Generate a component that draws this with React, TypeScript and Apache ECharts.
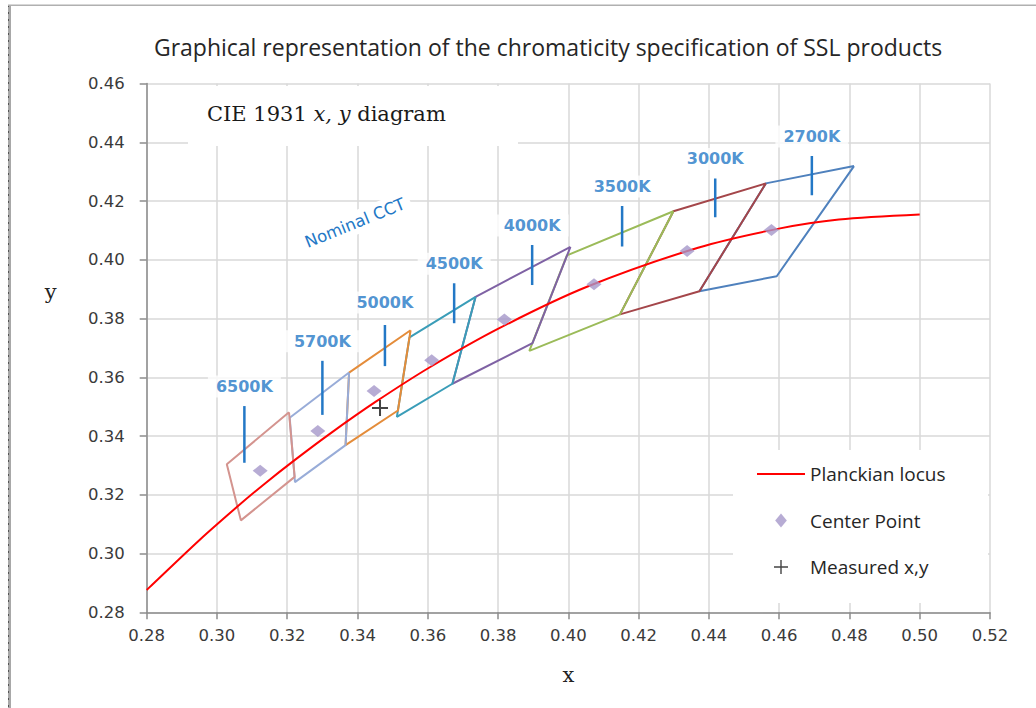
import { useEffect, useRef } from "react";
import * as echarts from "echarts";

// ---- data ----
const planckX = [0.2800, 0.2807, 0.2952, 0.3064, 0.3135, 0.3221, 0.3324, 0.3451, 0.3607, 0.3805, 0.4053, 0.4369, 0.4599, 0.4770, 0.5000];
const planckY = [0.2876, 0.2884, 0.3048, 0.3166, 0.3237, 0.3318, 0.3410, 0.3516, 0.3635, 0.3768, 0.3908, 0.4041, 0.4106, 0.4137, 0.4154];

const cctNames = ["6500K", "5700K", "5000K", "4500K", "4000K", "3500K", "3000K", "2700K"];

// quadrangle corners (ANSI C78.377), per CCT, 4 corners each
const quadX = [
  [0.3205, 0.3028, 0.3068, 0.3221],
  [0.3376, 0.3207, 0.3222, 0.3366],
  [0.3551, 0.3376, 0.3366, 0.3515],
  [0.3736, 0.3548, 0.3512, 0.3670],
  [0.4006, 0.3736, 0.3670, 0.3898],
  [0.4299, 0.3996, 0.3889, 0.4147],
  [0.4562, 0.4299, 0.4147, 0.4373],
  [0.4813, 0.4562, 0.4373, 0.4593],
];
const quadY = [
  [0.3481, 0.3304, 0.3113, 0.3261],
  [0.3616, 0.3462, 0.3243, 0.3369],
  [0.3760, 0.3616, 0.3369, 0.3487],
  [0.3874, 0.3736, 0.3465, 0.3578],
  [0.4044, 0.3874, 0.3578, 0.3716],
  [0.4165, 0.4015, 0.3690, 0.3814],
  [0.4260, 0.4165, 0.3814, 0.3893],
  [0.4319, 0.4260, 0.3893, 0.3944],
];

const centerX = [0.3123, 0.3287, 0.3447, 0.3611, 0.3818, 0.4073, 0.4338, 0.4578];
const centerY = [0.3282, 0.3417, 0.3553, 0.3658, 0.3797, 0.3917, 0.4030, 0.4101];

const measuredX = [0.3464];
const measuredY = [0.3495];

// nominal CCT marker segments
const tickX = [0.3078, 0.3300, 0.3478, 0.3675, 0.3897, 0.4153, 0.4418, 0.4693];
const tickTopY = [0.3502, 0.3656, 0.3778, 0.3920, 0.4050, 0.4183, 0.4277, 0.4353];
const tickBottomY = [0.3309, 0.3472, 0.3638, 0.3784, 0.3914, 0.4045, 0.4145, 0.4220];

const xMin = 0.28, xMax = 0.52, yMin = 0.28, yMax = 0.46, step = 0.02;

// ---- styles ----
const quadColors = ["#d4948f", "#98acd8", "#e48c3a", "#3a9db8", "#7f62a4", "#9bbb59", "#a4464a", "#4f81bd"];
const labelGap = [8, 8, 11, 8, 8, 8, 8, 8];
const blue = "#2378c6";
const cross = "path://M7,0H9V16H7Z M0,7H16V9H0Z";
const crossThin = "path://M6.3,0H7.7V14H6.3Z M0,6.3H14V7.7H0Z";
const diamondIcon = "path://M5,0L10,6L5,12L0,6Z";
const lineIcon = "path://M0,0H48V2H0Z";

export default function App() {
  const ref = useRef<HTMLDivElement>(null);

  useEffect(() => {
    if (!ref.current) return;
    const chart = echarts.init(ref.current, null, { renderer: "svg" });

    const series: any[] = [];
    // draw warm first so cooler quads sit on top of shared edges
    for (let i = cctNames.length - 1; i >= 0; i--) {
      const pts = quadX[i].map((x, k) => [x, quadY[i][k]]);
      pts.push([quadX[i][0], quadY[i][0]]);
      series.push({
        name: cctNames[i] + " quadrangle",
        type: "line",
        data: pts,
        symbol: "none",
        silent: true,
        z: 2,
        lineStyle: { color: quadColors[i], width: 2 },
      });
    }
    series.push({
      name: "Planckian locus",
      type: "line",
      data: planckX.map((x, i) => [x, planckY[i]]),
      smooth: 0.3,
      symbol: "none",
      z: 3,
      lineStyle: { color: "#ff0000", width: 2 },
      itemStyle: { color: "#ff0000" },
    });
    cctNames.forEach((n, i) => {
      series.push({
        name: n,
        type: "line",
        data: [
          [tickX[i], tickTopY[i]],
          [tickX[i], tickBottomY[i]],
        ],
        symbol: "none",
        z: 3,
        lineStyle: { color: blue, width: 2.5 },
      });
    });
    series.push({
      name: "CCT labels",
      type: "scatter",
      data: cctNames.map((n, i) => ({
        value: [tickX[i], tickTopY[i]],
        name: n,
        label: { distance: labelGap[i] },
      })),
      symbol: "rect",
      symbolSize: 1,
      itemStyle: { color: "rgba(0,0,0,0)" },
      z: 5,
      label: {
        show: true,
        position: "top",
        distance: 8,
        formatter: (p: any) => p.name,
        color: blue,
        fontFamily: "DejaVu Sans",
        fontWeight: "bold",
        fontSize: 16,
        backgroundColor: "#ffffff",
        padding: [3, 8, 3, 8],
      },
    });
    series.push({
      name: "Center Point",
      type: "scatter",
      data: centerX.map((x, i) => [x, centerY[i]]),
      symbol: "diamond",
      symbolSize: [15, 12],
      z: 6,
      itemStyle: { color: "#a597c9" },
    });
    series.push({
      name: "Measured x,y",
      type: "scatter",
      data: measuredX.map((x, i) => [x, measuredY[i]]),
      symbol: cross,
      symbolSize: 16,
      z: 7,
      itemStyle: { color: "#151515" },
    });

    const tickLabel = {
      formatter: (v: number) => v.toFixed(2),
      fontFamily: "DejaVu Sans",
      fontSize: 16.5,
      color: "#3a3a3a",
    };

    const axisCommon = {
      type: "value",
      interval: step,
      nameMoveOverlap: false,
      axisLine: { show: true, onZero: false, lineStyle: { color: "#8c8c8c", width: 1.5 } },
      axisTick: { show: true, length: 7, lineStyle: { color: "#8c8c8c", width: 1.5 } },
      splitLine: { show: true, lineStyle: { color: "#d9d9d9", width: 1.5 } },
    };

    chart.setOption({
      animation: false,
      backgroundColor: "#ffffff",
      title: {
        text: "Graphical representation of the chromaticity specification of SSL products",
        left: 548,
        textAlign: "center",
        top: 35,
        padding: 0,
        textStyle: { fontFamily: "Open Sans", fontSize: 23, fontWeight: "normal", color: "#262626" },
      },
      grid: { left: 146.7, top: 83.5, right: 1036 - 990, bottom: 708 - 612.3, containLabel: false },
      xAxis: {
        ...axisCommon,
        min: xMin,
        max: xMax,
        name: "x",
        nameLocation: "middle",
        nameGap: 52,
        nameTextStyle: { fontFamily: "DejaVu Serif", fontSize: 21, color: "#222" },
        axisLabel: { ...tickLabel, margin: 15 },
      },
      yAxis: {
        ...axisCommon,
        min: yMin,
        max: yMax,
        name: "y\n ",
        nameLocation: "middle",
        nameRotate: 0,
        nameGap: 90,
        nameTextStyle: { fontFamily: "DejaVu Serif", fontSize: 21, color: "#222", lineHeight: 112 },
        axisLabel: { ...tickLabel, margin: 22 },
      },
      legend: {
        orient: "vertical",
        left: 757,
        top: 464,
        padding: 0,
        itemWidth: 48,
        itemHeight: 14,
        itemGap: 26.5,
        textStyle: { fontFamily: "Open Sans", fontSize: 19, color: "#262626", lineHeight: 20 },
        data: [
          { name: "Planckian locus", icon: lineIcon },
          { name: "Center Point", icon: diamondIcon },
          { name: "Measured x,y", icon: crossThin },
        ],
        selectedMode: false,
      },
      graphic: [
        { type: "rect", z: 1, shape: { x: 8, y: 5, width: 3, height: 703 }, style: { fill: "#a8a8a8" } },
        { type: "line", z: 1, shape: { x1: 8.5, y1: 5, x2: 8.5, y2: 708 }, style: { stroke: "#555", lineWidth: 1, lineDash: [2, 5] } },
        { type: "rect", z: 1, shape: { x: 8, y: 4.5, width: 1028, height: 1.5 }, style: { fill: "#b0b0b0" } },
        { type: "rect", z: 1, shape: { x: 188, y: 86, width: 330, height: 60 }, style: { fill: "#ffffff" } },
        { type: "rect", z: 1, shape: { x: 733, y: 450, width: 255, height: 153 }, style: { fill: "#ffffff" } },
        {
          type: "text",
          z: 5,
          x: 207,
          y: 114,
          style: {
            text: "{r|CIE 1931 }{i|x, y}{r| diagram}",
            verticalAlign: "middle",
            rich: {
              r: { fontFamily: "DejaVu Serif", fontSize: 21, fill: "#1a1a1a" },
              i: { fontFamily: "DejaVu Serif", fontStyle: "italic", fontSize: 21, fill: "#1a1a1a" },
            },
          },
        },
        {
          type: "text",
          z: 5,
          x: 355,
          y: 223,
          rotation: (22 * Math.PI) / 180,
          style: {
            text: "Nominal CCT",
            align: "center",
            verticalAlign: "middle",
            fontFamily: "DejaVu Sans",
            fontSize: 16.5,
            fill: blue,
            backgroundColor: "#ffffff",
            padding: [3, 6],
          },
        },
      ],
      series,
    });

    return () => chart.dispose();
  }, []);

  return (
    <div
      ref={ref}
      style={{ position: "fixed", left: 0, top: 0, width: 1036, height: 708, background: "#fff" }}
    />
  );
}
